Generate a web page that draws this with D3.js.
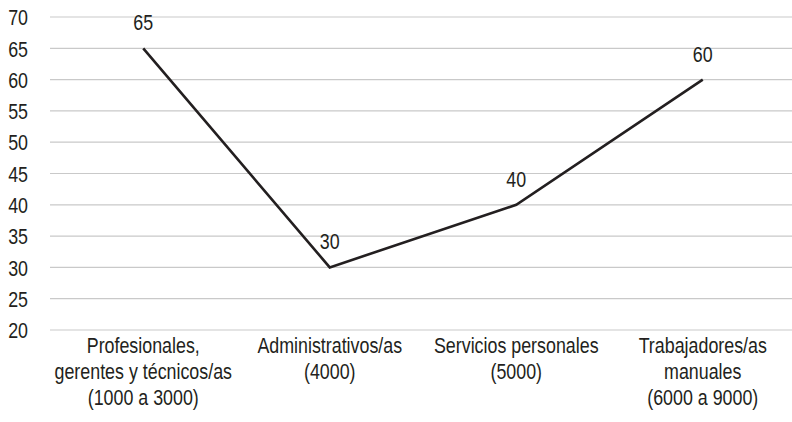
<!DOCTYPE html>
<html>
<head>
<meta charset="utf-8">
<script src="https://cdn.jsdelivr.net/npm/d3@7"></script>
<style>
  body { margin: 0; background: #fff; }
  text { font-family: "Liberation Sans", Arial, sans-serif; fill: #231f20; }
</style>
</head>
<body>
<svg id="chart" width="792" height="422"></svg>
<script>
const categories = [
  ["Profesionales,", "gerentes y técnicos/as", "(1000 a 3000)"],
  ["Administrativos/as", "(4000)"],
  ["Servicios personales", "(5000)"],
  ["Trabajadores/as", "manuales", "(6000 a 9000)"]
];
const values = [65, 30, 40, 60];
const yTicks = [20, 25, 30, 35, 40, 45, 50, 55, 60, 65, 70];

const svg = d3.select("#chart");
const plotLeft = 50, plotRight = 796, plotTop = 17, plotBottom = 330;
const fontSize = 21.5;
const squeeze = "scale(0.83,1)"; // condensed look without a narrow font

const x = d3.scaleBand().domain(d3.range(categories.length)).range([plotLeft, plotRight]);
const y = d3.scaleLinear().domain([20, 70]).range([plotBottom, plotTop]);
const cx = i => x(i) + x.bandwidth() / 2;

// gridlines
svg.append("g")
  .selectAll("line")
  .data(yTicks)
  .join("line")
  .attr("x1", plotLeft)
  .attr("x2", plotRight)
  .attr("y1", d => y(d))
  .attr("y2", d => y(d))
  .attr("stroke", "#c9c9c9")
  .attr("stroke-width", 1.2);

// y axis labels
const yAxis = svg.append("g")
  .attr("transform", `translate(28,0)`)
  .call(d3.axisLeft(y).tickValues(yTicks).tickSize(0).tickPadding(0));
yAxis.select(".domain").remove();
yAxis.selectAll("text")
  .attr("font-size", fontSize)
  .attr("font-family", null)
  .attr("dy", "0.36em")
  .attr("transform", squeeze);

// x axis labels (multi-line)
const xLab = svg.append("g")
  .selectAll("g")
  .data(categories)
  .join("g")
  .attr("transform", (d, i) => `translate(${cx(i)},353)`)
  .append("text")
  .attr("text-anchor", "middle")
  .attr("font-size", fontSize)
  .attr("transform", squeeze);
xLab.selectAll("tspan")
  .data(d => d)
  .join("tspan")
  .attr("x", 0)
  .attr("dy", (d, i) => i === 0 ? 0 : 26)
  .text(d => d);

// line
const line = d3.line()
  .x((d, i) => cx(i))
  .y(d => y(d));

svg.append("path")
  .datum(values)
  .attr("fill", "none")
  .attr("stroke", "#231f20")
  .attr("stroke-width", 2.6)
  .attr("stroke-linejoin", "miter")
  .attr("d", line);

// data labels
svg.append("g")
  .selectAll("g")
  .data(values)
  .join("g")
  .attr("transform", (d, i) => `translate(${cx(i)},${y(d) - 18})`)
  .append("text")
  .attr("text-anchor", "middle")
  .attr("font-size", fontSize)
  .attr("transform", squeeze)
  .text(d => d);
</script>
</body>
</html>
